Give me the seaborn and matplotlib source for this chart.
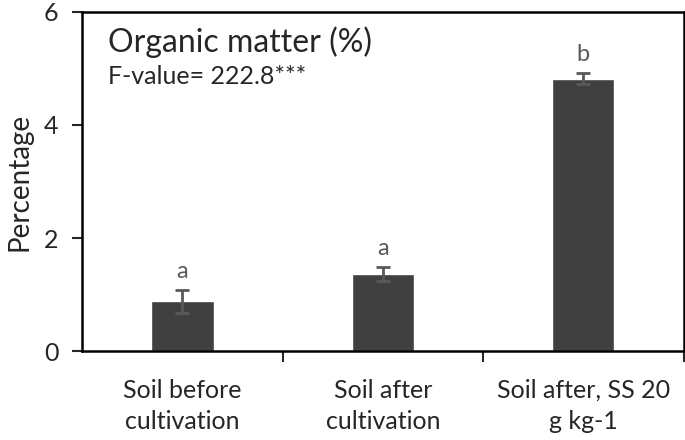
import matplotlib
matplotlib.use("Agg")
import matplotlib.pyplot as plt
import seaborn as sns
import pandas as pd

categories = ["Soil before\ncultivation", "Soil after\ncultivation", "Soil after, SS 20\ng kg-1"]
values = [0.88, 1.36, 4.82]
errors = [0.20, 0.125, 0.095]
letters = ["a", "a", "b"]

sns.set_style("white")
plt.rcParams["font.family"] = ["Lato", "DejaVu Sans"]

df = pd.DataFrame({"Group": categories, "Percentage": values})

fig = plt.figure(figsize=(6.85, 4.4), dpi=100)
ax = fig.add_axes([0.12, 0.202, 0.878, 0.771])
sns.barplot(data=df, x="Group", y="Percentage", color="#404040",
            width=0.31, saturation=1, ax=ax)
ax.errorbar(range(len(values)), values, yerr=errors, fmt="none",
            ecolor="#595959", elinewidth=2, capsize=5, capthick=2)

for i, (v, e, l) in enumerate(zip(values, errors, letters)):
    ax.annotate(l, (i, v + e), xytext=(0, 6), textcoords="offset points",
                ha="center", va="bottom", fontsize=17, color="#595959")

ax.set_ylim(0, 6)
ax.set_xlim(-0.5, 2.5)
ax.set_yticks([0, 2, 4, 6])
ax.set_xlabel("")
ax.set_ylabel("Percentage", fontsize=20, labelpad=8)
for s in ax.spines.values():
    s.set_visible(True)
    s.set_color("black")
    s.set_linewidth(1.8)

ax.tick_params(axis="y", which="major", direction="out", length=7,
               width=1.5, labelsize=18, left=True, pad=10)
ax.tick_params(axis="x", which="major", length=0, labelsize=18, pad=20)
for lbl in ax.get_xticklabels():
    lbl.set_linespacing(1.45)
ax.set_xticks([0.5, 1.5, 2.5], minor=True)
ax.tick_params(axis="x", which="minor", direction="out", length=8,
               width=1.5, bottom=True)

ax.text(0.043, 0.91, "Organic matter (%)", transform=ax.transAxes,
        fontsize=23, va="center", ha="left")
ax.text(0.043, 0.81, "F-value= 222.8***", transform=ax.transAxes,
        fontsize=18, va="center", ha="left")

fig.savefig("out.png", dpi=100)
